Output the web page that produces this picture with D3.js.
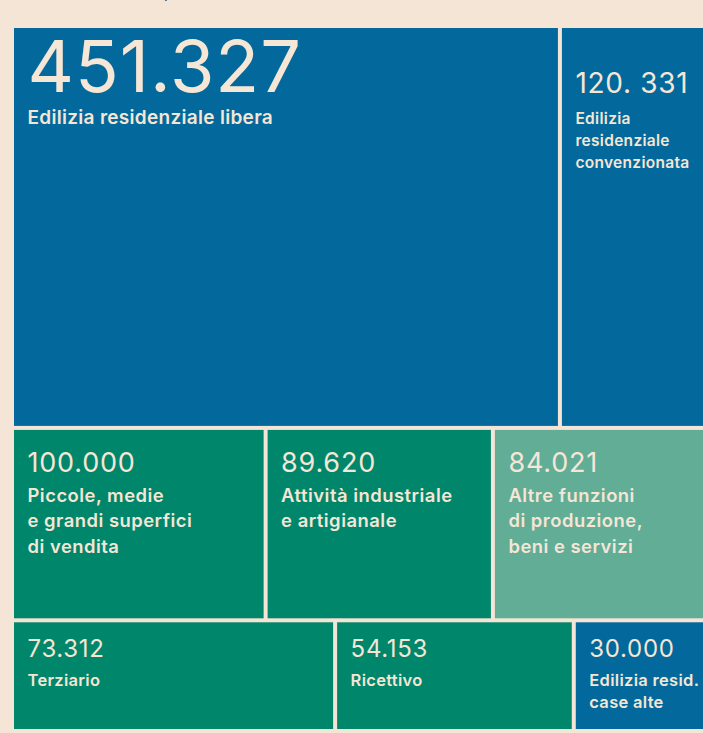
<!DOCTYPE html>
<html>
<head>
<meta charset="utf-8">
<script src="https://cdn.jsdelivr.net/npm/d3@7"></script>
<style>
  html, body { margin: 0; padding: 0; background: #f5e5d6; overflow: hidden; }
  svg { display: block; }
  .num { font-family: Inter, "Noto Sans", sans-serif; font-weight: 400; fill: #f5e6d6; }
  .lab { font-family: Inter, "Noto Sans", sans-serif; font-weight: 600; fill: #f5e6d6; }
</style>
</head>
<body>
<svg id="chart"></svg>
<script>
// rows of the treemap, top to bottom
const rowNames = ["riga1", "riga2", "riga3"];

const categories = [
  "Edilizia residenziale libera",
  "Edilizia residenziale convenzionata",
  "Piccole, medie e grandi superfici di vendita",
  "Attività industriale e artigianale",
  "Altre funzioni di produzione, beni e servizi",
  "Terziario",
  "Ricettivo",
  "Edilizia resid. case alte"
];
const values = [451327, 120331, 100000, 89620, 84021, 73312, 54153, 30000];
const rowOf = [0, 0, 1, 1, 1, 2, 2, 2];
const groups = ["res", "res", "prod", "prod", "altre", "prod", "prod", "res"];

// text as it is printed in the cells
const valueLabels = ["451.327", "120. 331", "100.000", "89.620", "84.021", "73.312", "54.153", "30.000"];
const labelLines = [
  ["Edilizia residenziale libera"],
  ["Edilizia", "residenziale", "convenzionata"],
  ["Piccole, medie", "e grandi superfici", "di vendita"],
  ["Attività industriale", "e artigianale"],
  ["Altre funzioni", "di produzione,", "beni e servizi"],
  ["Terziario"],
  ["Ricettivo"],
  ["Edilizia resid.", "case alte"]
];

const config = {
  width: 703,
  height: 733,
  left: 14,
  top: 28,
  mapWidth: 690,
  mapHeight: 701,
  gap: 4,
  padX: 13.5
};

// typography per cell: number size/spacing/baseline, label size/spacing/baseline, line height
const big   = { ns: 72, nsp: 1,   nb: 64, ls: 19,   lsp: 0.3, lb: 96, lh: 22 };
const side  = { ns: 28, nsp: 0.7, nb: 65, ls: 15.5, lsp: 0.3, lb: 96, lh: 22 };
const mid   = { ns: 27, nsp: 0.8, nb: 42, ls: 18.4, lsp: 0.5, lb: 72, lh: 25.5 };
const small = { ns: 24, nsp: 0.7, nb: 35, ls: 16.5, lsp: 0.3, lb: 64, lh: 21.5 };
const cellType = [big, side, mid, mid, mid, small, small, small];

const color = d3.scaleOrdinal()
  .domain(["res", "prod", "altre"])
  .range(["#03699c", "#00866b", "#62ad96"]);

const svg = d3.select("#chart")
  .attr("width", config.width)
  .attr("height", config.height);

// tail of the title line above, cut off by the picture edge
svg.append("text")
  .attr("x", 164)
  .attr("y", -2)
  .attr("font-family", "Inter, sans-serif")
  .attr("font-size", 18)
  .attr("fill", "#333")
  .text(",");

const tree = {
  name: "root",
  children: rowNames.map((r, i) => ({
    name: r,
    children: categories
      .map((c, j) => ({ name: c, idx: j, value: values[j] }))
      .filter(d => rowOf[d.idx] === i)
  }))
};

const root = d3.hierarchy(tree)
  .sum(d => d.value || 0);

// rows stacked vertically, cells side by side inside each row
d3.treemap()
  .tile((node, x0, y0, x1, y1) => {
    if (node.depth === 0) d3.treemapSlice(node, x0, y0, x1, y1);
    else d3.treemapDice(node, x0, y0, x1, y1);
  })
  .size([config.mapWidth, config.mapHeight])
  .paddingInner(config.gap)
  .round(false)(root);

const chart = svg.append("g")
  .attr("transform", `translate(${config.left},${config.top})`);

const cells = chart.selectAll("g.cell")
  .data(root.leaves())
  .join("g")
  .attr("class", "cell")
  .attr("transform", d => `translate(${d.x0},${d.y0})`);

cells.append("rect")
  .attr("width", d => d.x1 - d.x0)
  .attr("height", d => d.y1 - d.y0)
  .attr("fill", d => color(groups[d.data.idx]));

cells.append("text")
  .attr("class", "num")
  .attr("x", config.padX)
  .attr("y", d => cellType[d.data.idx].nb)
  .attr("font-size", d => cellType[d.data.idx].ns)
  .attr("letter-spacing", d => cellType[d.data.idx].nsp)
  .text(d => valueLabels[d.data.idx]);

cells.each(function(d) {
  const t = cellType[d.data.idx];
  d3.select(this).append("text")
    .attr("class", "lab")
    .attr("font-size", t.ls)
    .attr("letter-spacing", t.lsp)
    .selectAll("tspan")
    .data(labelLines[d.data.idx])
    .join("tspan")
    .attr("x", config.padX)
    .attr("y", (l, i) => t.lb + i * t.lh)
    .text(l => l);
});
</script>
</body>
</html>
